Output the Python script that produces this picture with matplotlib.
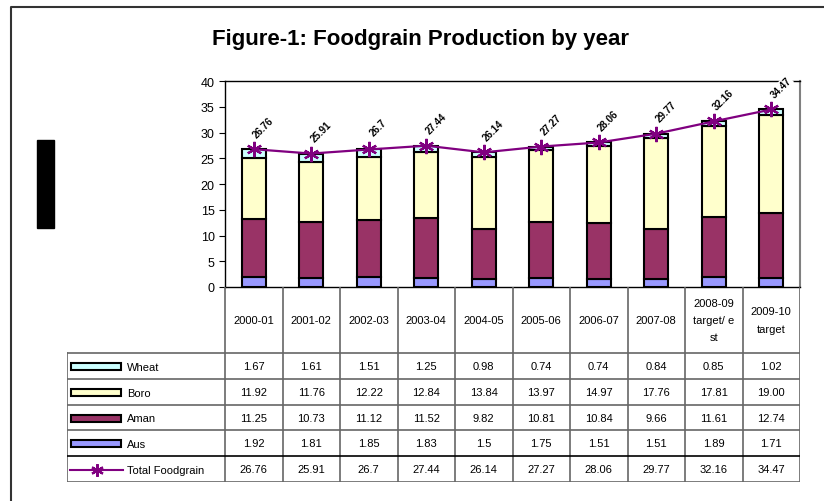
import matplotlib.pyplot as plt
from matplotlib.patches import Rectangle

plt.rcParams['font.family'] = ['Liberation Sans', 'DejaVu Sans']

years = ['2000-01', '2001-02', '2002-03', '2003-04', '2004-05', '2005-06',
         '2006-07', '2007-08', '2008-09\ntarget/ e\nst', '2009-10\ntarget']
wheat = [1.67, 1.61, 1.51, 1.25, 0.98, 0.74, 0.74, 0.84, 0.85, 1.02]
boro = [11.92, 11.76, 12.22, 12.84, 13.84, 13.97, 14.97, 17.76, 17.81, 19.00]
aman = [11.25, 10.73, 11.12, 11.52, 9.82, 10.81, 10.84, 9.66, 11.61, 12.74]
aus = [1.92, 1.81, 1.85, 1.83, 1.5, 1.75, 1.51, 1.51, 1.89, 1.71]
total = [26.76, 25.91, 26.7, 27.44, 26.14, 27.27, 28.06, 29.77, 32.16, 34.47]
total_txt = ['26.76', '25.91', '26.7', '27.44', '26.14', '27.27', '28.06', '29.77', '32.16', '34.47']

# цвета как в Excel
c_wheat = '#CCFFFF'
c_boro = '#FFFFCC'
c_aman = '#993366'
c_aus = '#9999FF'
c_total = '#800080'

W, H = 824, 502
fig = plt.figure(figsize=(W / 100, H / 100), dpi=100)


def px_axes(x0, y0, x1, y1):
    # пиксельные координаты -> доли фигуры
    return fig.add_axes([x0 / W, 1 - y1 / H, (x1 - x0) / W, (y1 - y0) / H])


# рамка и чёрный прямоугольник слева
bg = fig.add_axes([0, 0, 1, 1])
bg.set_xlim(0, W)
bg.set_ylim(H, 0)
bg.axis('off')
bg.plot([11, 11, W], [H, 8, 8], color='#333333', lw=1.5)
bg.add_patch(Rectangle((37, 141), 17, 88, color='black'))

fig.text(420 / W, 1 - 40 / H, 'Figure-1: Foodgrain Production by year',
         ha='center', va='center', fontsize=16, fontweight='bold')

# основная диаграмма
ax = px_axes(225, 82, 800, 288)
x = list(range(len(years)))
bw = 0.42
ek = dict(edgecolor='black', linewidth=1.5, width=bw, zorder=2)
ax.bar(x, aus, color=c_aus, **ek)
b1 = [a for a in aus]
ax.bar(x, aman, bottom=b1, color=c_aman, **ek)
b2 = [a + b for a, b in zip(b1, aman)]
ax.bar(x, boro, bottom=b2, color=c_boro, **ek)
b3 = [a + b for a, b in zip(b2, boro)]
ax.bar(x, wheat, bottom=b3, color=c_wheat, **ek)

ax.plot(x, total, color=c_total, lw=1.6, marker=(6, 2, 0), ms=11,
        mew=1.6, zorder=3)
for xi, t, s in zip(x, total, total_txt):
    ax.annotate(s, (xi, t), xytext=(7, 16), textcoords='offset points',
                ha='center', va='center', rotation=45, fontsize=7,
                fontweight='bold', zorder=4,
                bbox=dict(facecolor='white', edgecolor='none', pad=0.5))

ax.set_xlim(-0.5, 9.5)
ax.set_ylim(0, 40)
ax.set_yticks(range(0, 41, 5))
ax.set_xticks([])
ax.tick_params(axis='y', labelsize=9, length=4, direction='out')
for s in ['left', 'bottom', 'top']:
    ax.spines[s].set_color('black')
    ax.spines[s].set_linewidth(1)
ax.spines['right'].set_color('#808080')
ax.spines['right'].set_linewidth(1.5)

# таблица данных под диаграммой
tb = px_axes(67, 288, 800, 483)
left = -0.5 - (225 - 67) / 57.5
tb.set_xlim(left, 9.5)
tb.set_ylim(195, 0)
tb.axis('off')

hdr = 66
rh = 25.8
grid = '#666666'
fs = 8
for i in range(11):
    tb.plot([i - 0.5, i - 0.5], [0, 195], color=grid, lw=1.2)
tb.plot([left, left], [hdr, 195], color=grid, lw=1.2)
for r in range(6):
    yy = hdr + r * rh
    tb.plot([left, 9.5], [yy, yy], color='black' if r == 4 else grid, lw=1.2)

for xi, yl in zip(x, years):
    tb.text(xi, hdr / 2, yl, ha='center', va='center', fontsize=fs,
            linespacing=1.9)

rows = [('Wheat', wheat, c_wheat), ('Boro', boro, c_boro),
        ('Aman', aman, c_aman), ('Aus', aus, c_aus)]
for r, (name, vals, col) in enumerate(rows):
    yc = hdr + (r + 0.5) * rh
    tb.add_patch(Rectangle((left + 4 / 57.5, yc - 3), 50 / 57.5, 7,
                           facecolor=col, edgecolor='black', lw=1.5))
    tb.text(left + 60 / 57.5, yc + 1, name, ha='left', va='center', fontsize=fs)
    for xi, v in zip(x, vals):
        tb.text(xi, yc, f'{v:.2f}' if name != 'Aus' or v != 1.5 else '1.5',
                ha='center', va='center', fontsize=fs)

yc = hdr + 4.5 * rh
tb.plot([left + 3 / 57.5, left + 56 / 57.5], [yc + 1, yc + 1], color=c_total, lw=1.5)
tb.plot([left + 30 / 57.5], [yc + 1], color=c_total, marker=(6, 2, 0), ms=9, mew=1.6)
tb.text(left + 60 / 57.5, yc + 1, 'Total Foodgrain', ha='left', va='center', fontsize=fs)
for xi, s in zip(x, total_txt):
    tb.text(xi, yc, s, ha='center', va='center', fontsize=fs)

fig.savefig('out.png', dpi=100)
